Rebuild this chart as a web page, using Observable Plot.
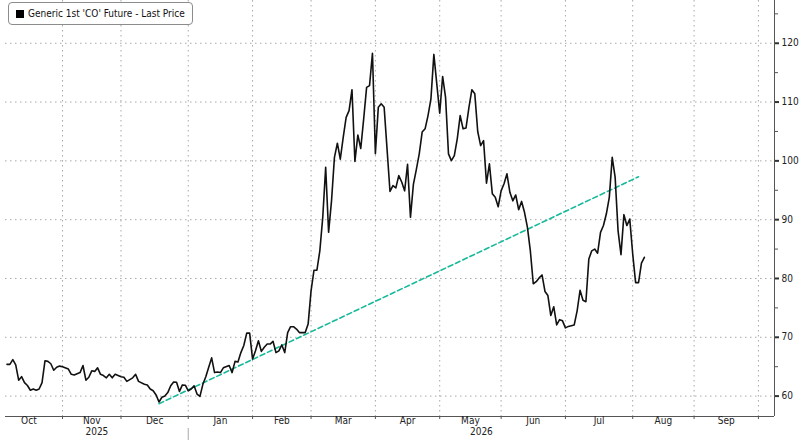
<!DOCTYPE html>
<html><head><meta charset="utf-8">
<script src="https://cdn.jsdelivr.net/npm/d3@7"></script>
<script src="https://cdn.jsdelivr.net/npm/@observablehq/plot@0.6"></script>
<style>
body{margin:0;background:#fff;}
#wrap{position:relative;width:800px;height:440px;overflow:hidden;}
#legend{position:absolute;left:8px;top:2px;height:21px;padding:0 7px 0 7px;border:1px solid #8c8c8c;border-radius:4px;background:#fff;
 font-family:"DejaVu Sans Condensed","DejaVu Sans",sans-serif;font-size:10px;color:#111;display:flex;align-items:center;white-space:nowrap;}
#legend span.sw{display:inline-block;width:8px;height:8px;background:#000;margin-right:4px;}
</style></head><body>
<div id="wrap"><div id="chart"></div><div id="legend"><span class="sw"></span>Generic 1st 'CO' Future - Last Price</div></div>
<script>
// trading-day index (weekdays counted from 2025-10-01 = 0)
const days = [4,5,6,7,8,9,10,11,12,13,14,15,16,17,18,19,20,21,22,23,25,26,27,29,30,31,32,33,34,35,36,37,38,39,40,41,43,44,45,47,48,49,51,52,53,54,55,56,57,58,59,60,61,62,63,64,65,66,67,68,69,70,71,72,73,74,75,76,77,78,80,81,82,83,84,85,86,87,88,89,90,91,92,93,94,95,96,97,98,99,100,101,102,103,104,106,107,108,109,110,111,112,113,114,115,116,117,118,119,120,121,122,123,124,125,126,127,128,129,130,131,132,133,135,136,137,138,139,140,141,142,143,144,145,146,147,148,149,150,151,152,153,154,155,156,157,158,159,160,161,162,163,164,165,166,167,168,169,170,171,172,173,174,175,176,177,178,179,180,181,182,183,184,185,186,187,188,189,190,191,192,193,194,195,196,198,199,200,201,202,203,204,205,206,207,208,209,210,211,212,213,214,215,216,217,218,219,220,221,222];
const prices = [65.4,65.4,66.2,65.3,62.7,63.3,62.3,61.8,61.0,61.2,61.0,61.2,62.3,66.0,65.9,65.5,64.4,64.9,65.1,65.0,64.6,63.7,63.6,64.0,65.2,62.7,63.2,64.3,64.2,64.8,63.7,63.5,63.1,63.7,63.1,63.7,63.3,63.2,62.5,63.1,63.7,62.5,62.0,61.9,61.2,60.9,60.2,59.0,59.8,60.0,60.6,61.75,62.4,62.35,60.8,61.9,61.85,60.9,61.2,61.75,60.35,59.95,62.0,63.3,64.9,66.5,64.0,64.1,64.0,64.8,65.2,64.0,65.9,65.8,67.4,68.6,70.7,70.7,66.3,67.7,69.4,67.6,68.3,68.85,68.85,69.3,67.4,67.7,68.7,67.4,70.8,71.8,71.8,71.4,70.8,70.8,72.25,77.9,81.4,81.4,84.7,90.4,98.9,87.85,93.2,100.6,103.0,100.3,104.0,107.4,108.55,112.1,99.9,104.4,102.1,107.15,112.5,112.8,118.3,101.2,109.1,109.7,109.1,94.8,95.8,95.4,97.5,96.4,94.9,99.4,90.4,96.0,98.5,101.2,104.9,105.45,107.7,110.55,118.1,113.1,108.1,114.35,110.8,101.2,100.05,100.9,103.75,107.7,105.45,105.6,109.1,112.1,111.4,105.0,102.6,103.45,96.2,99.5,94.4,93.8,92.2,94.9,96.1,97.8,94.65,93.2,94.2,91.7,93.1,91.25,88.7,84.7,79.1,79.45,80.1,80.6,77.8,77.1,73.7,75.2,72.1,73.0,72.8,71.6,71.85,72.1,74.5,78.0,76.3,76.05,83.3,84.7,85.0,84.3,87.85,89.0,91.0,93.8,100.6,97.2,88.1,84.05,90.85,89.0,90.1,84.2,79.3,79.3,82.6,83.6];
const trendDays = [56, 220];
const trendPrices = [58.7, 97.3];
const yMajor = [60,70,80,90,100,110,120];
const yMinor = [65,75,85,95,105,115,125];
const monthNames = ["Oct","Nov","Dec","Jan","Feb","Mar","Apr","May","Jun","Jul","Aug","Sep"];
const yearNames = ["2025","2026"];

const xDomain = [3.5, 266.5];
const yDomain = [56.53, 127.27];

// weekday calendar
const weekdays = d3.timeDay.range(new Date(2025,9,1), new Date(2026,10,1)).filter(d => d.getDay() % 6 !== 0);
const monthStartIdx = [];
for (let m = 0; m < 13; m++) {
  const y = 2025 + Math.floor((9 + m) / 12), mo = (9 + m) % 12;
  monthStartIdx.push(weekdays.findIndex(d => d.getFullYear() === y && d.getMonth() === mo));
}
const gridIdx = monthStartIdx.slice(1); // Nov 2025 .. Oct 2026
const monthMid = monthNames.map((_, i) => (monthStartIdx[i] + monthStartIdx[i + 1]) / 2);
const janIdx = monthStartIdx[3];
const yearMid = [(xDomain[0] + janIdx) / 2, (janIdx + xDomain[1]) / 2];

const series = days.map((d, i) => ({day: d, price: prices[i]}));
const trend = trendDays.map((d, i) => ({day: d, price: trendPrices[i]}));

const grid = {stroke: "#a8a8a8", strokeDasharray: "1.5,3.5", strokeWidth: 1};
const font = '"DejaVu Sans Condensed","DejaVu Sans",sans-serif';

const chart = Plot.plot({
  width: 800, height: 440,
  marginTop: 0, marginBottom: 24, marginLeft: 5, marginRight: 26,
  x: {type: "linear", domain: xDomain, axis: null, label: null},
  y: {domain: yDomain, axis: null, label: null},
  style: {fontFamily: font, fontSize: "10px", color: "#222", background: "#fff"},
  marks: [
    Plot.ruleY(yMajor, grid),
    Plot.ruleX(gridIdx, grid),
    Plot.line(trend, {x: "day", y: "price", stroke: "#17b99b", strokeWidth: 1.6, strokeDasharray: "5,3"}),
    Plot.line(series, {x: "day", y: "price", stroke: "#111", strokeWidth: 1.6}),
    Plot.ruleY([yDomain[0]], {stroke: "#555"}),
    Plot.ruleX([xDomain[1]], {stroke: "#555"}),
    Plot.axisX({ticks: gridIdx, tickSize: 3, tickFormat: () => "", stroke: "#555", label: null}),
    Plot.text(monthNames, {x: monthMid, text: d => d, frameAnchor: "bottom", dy: 7.5, fill: "#222"}),
    Plot.text(yearNames, {x: yearMid, text: d => d, frameAnchor: "bottom", dy: 18, fill: "#222"}),
    Plot.axisX({ticks: [janIdx], tickSize: 12, dy: 12, tickFormat: () => "", stroke: "#aaa", label: null}),
    Plot.axisY({anchor: "right", ticks: yMajor, tickSize: 4, tickPadding: 3, strokeWidth: 2, stroke: "#333", fill: "#222", label: null}),
    Plot.axisY({anchor: "right", ticks: yMinor, tickSize: 3, tickFormat: () => "", stroke: "#555", label: null})
  ]
});
document.getElementById("chart").appendChild(chart);
</script>
</body></html>
